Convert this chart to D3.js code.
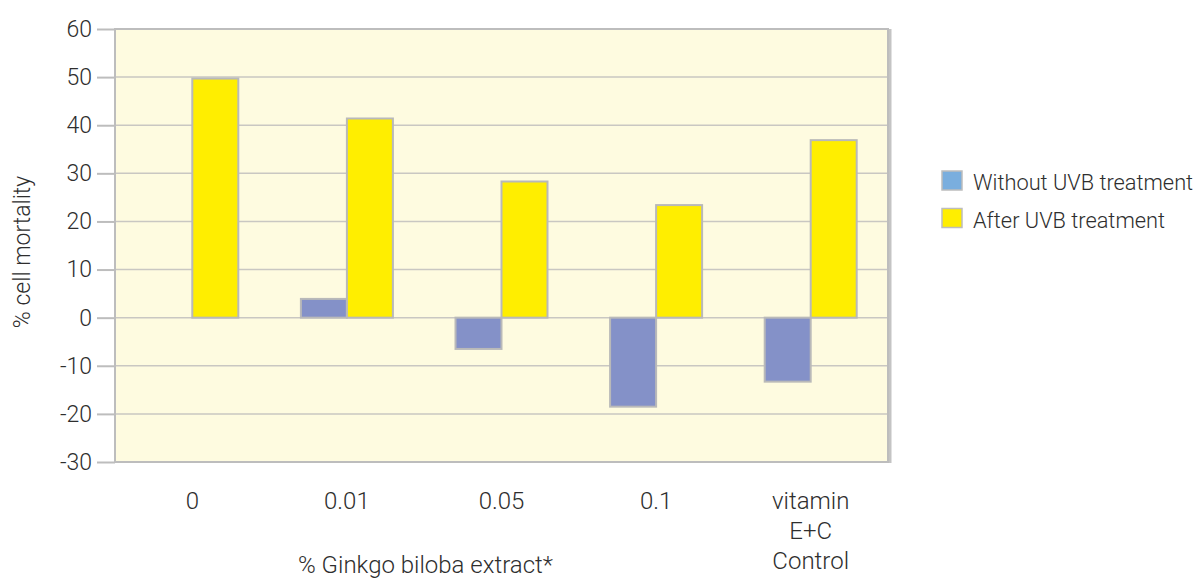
<!DOCTYPE html>
<html>
<head>
<meta charset="utf-8">
<script src="https://cdn.jsdelivr.net/npm/d3@7"></script>
<style>
  html, body { margin: 0; padding: 0; background: #ffffff; }
  svg text { font-family: Roboto, "Liberation Sans", Arial, sans-serif; font-weight: 300; fill: #2e2e2e; }
</style>
</head>
<body>
<svg id="chart" width="1198" height="581"></svg>
<script>
// Concentrations tested (last one is the vitamin control, shown on three lines)
const categories = ["0", "0.01", "0.05", "0.1", "vitamin\nE+C\nControl"];
const seriesNames = ["Without UVB treatment", "After UVB treatment"];
const withoutUVB = [0, 3.9, -6.5, -18.5, -13.3];
const afterUVB = [49.7, 41.4, 28.3, 23.4, 36.9];
const yTicks = [60, 50, 40, 30, 20, 10, 0, -10, -20, -30];

const barColors = ["#8491c8", "#ffee00"];
const legendColors = ["#7aaede", "#ffee00"];

const svg = d3.select("#chart");
const margin = { left: 115, right: 310, top: 29, bottom: 119 };
const W = 1198, H = 581;
const plotW = W - margin.left - margin.right;
const plotH = H - margin.top - margin.bottom;

const g = svg.append("g").attr("transform", `translate(${margin.left},${margin.top})`);

const x = d3.scaleBand().domain(categories).range([0, plotW]);
const y = d3.scaleLinear().domain([-30, 60]).range([plotH, 0]);
const barW = 46;

// plot background
g.append("rect").attr("x", 0).attr("y", 0).attr("width", plotW).attr("height", plotH)
  .attr("fill", "#fefbe0");

// horizontal grid
g.append("g").selectAll("line").data(yTicks.filter(d => d !== 60 && d !== -30)).join("line")
  .attr("x1", 0).attr("x2", plotW)
  .attr("y1", d => y(d)).attr("y2", d => y(d))
  .attr("stroke", "#c9c7c2").attr("stroke-width", 1.5);

// bars
const rows = categories.map((c, i) => ({ c, v: [withoutUVB[i], afterUVB[i]] }));
const grp = g.append("g").selectAll("g").data(rows).join("g")
  .attr("transform", d => `translate(${x(d.c) + x.bandwidth() / 2},0)`);
grp.selectAll("rect").data(d => d.v.map((v, k) => ({ v, k })).filter(e => e.v !== 0)).join("rect")
  .attr("x", e => e.k === 0 ? -barW : 0)
  .attr("width", barW)
  .attr("y", e => y(Math.max(0, e.v)))
  .attr("height", e => Math.abs(y(e.v) - y(0)))
  .attr("fill", e => barColors[e.k])
  .attr("stroke", "#b9b9b9").attr("stroke-width", 2);

// frame with a slight shadow on the right edge
g.append("line").attr("x1", plotW + 2).attr("x2", plotW + 2).attr("y1", 0).attr("y2", plotH + 1)
  .attr("stroke", "#c4c4c4").attr("stroke-width", 3);
g.append("rect").attr("x", 0).attr("y", 0).attr("width", plotW).attr("height", plotH)
  .attr("fill", "none").attr("stroke", "#bdbdbd").attr("stroke-width", 2);

// y axis ticks and labels
const yAxis = d3.axisLeft(y).tickValues(yTicks).tickSize(18).tickPadding(5).tickFormat(d => String(d));
const ya = g.append("g").call(yAxis);
ya.select(".domain").remove();
ya.selectAll(".tick line").attr("stroke", "#bdbdbd").attr("stroke-width", 2);
ya.selectAll(".tick text").attr("font-size", 23).attr("fill", "#2e2e2e")
  .attr("font-family", "Roboto, sans-serif");

// x category labels
const xl = g.append("g").selectAll("text").data(categories).join("text")
  .attr("text-anchor", "middle")
  .attr("font-size", 24)
  .attr("transform", d => `translate(${x(d) + x.bandwidth() / 2},${plotH + 47})`);
xl.selectAll("tspan").data(d => d.split("\n")).join("tspan")
  .attr("x", 0).attr("dy", (d, i) => i === 0 ? 0 : 30).text(d => d);

// axis titles
svg.append("text").attr("text-anchor", "start").attr("font-size", 24)
  .attr("x", 298).attr("y", 573).text("% Ginkgo biloba extract*");
svg.append("text").attr("text-anchor", "middle").attr("font-size", 23)
  .attr("transform", "translate(30,252) rotate(-90)").text("% cell mortality");

// legend
const lg = svg.append("g").attr("transform", "translate(942,171)");
const li = lg.selectAll("g").data(seriesNames).join("g")
  .attr("transform", (d, i) => `translate(0,${i * 37.5})`);
li.append("rect").attr("width", 20).attr("height", 19)
  .attr("fill", (d, i) => legendColors[i]).attr("stroke", "#bdbdbd").attr("stroke-width", 1.5);
li.append("text").attr("x", 31).attr("y", 19).attr("font-size", 21.8).text(d => d);
</script>
</body>
</html>
